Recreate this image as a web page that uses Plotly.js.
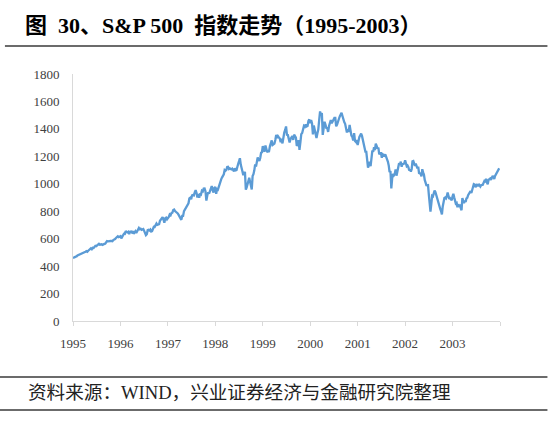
<!DOCTYPE html>
<html>
<head>
<meta charset="utf-8">
<script src="https://cdn.plot.ly/plotly-3.0.1.min.js"></script>
<style>
html,body{margin:0;padding:0;background:#fff;}
#chart{width:554px;height:423px;}
</style>
</head>
<body>
<div id="chart"></div>
<script>
// S&P 500 index, approx. weekly levels, one array per year
const sp1995 = [460,461,465,470,471, 478,481,482,483, 485,490,495,500,502, 505,509,505,512, 520,525,529,523,533, 532,539,548,545, 553,560,562,556, 558,559,555,561,562, 563,572,583,581, 582,587,583,583,581, 590,593,597,605, 608,617,611,615];
const sp1996 = [618,602,611,621,636, 635,656,648,645, 650,634,651,652,645, 655,636,646,654, 641,652,668,678,669, 673,665,666,671, 657,646,626,633, 662,665,660,667,652, 655,681,687,686, 702,710,700,701,705, 730,738,749,757, 739,716,749,753,741];
const sp1997 = [748,759,776,770,786, 789,808,812,801, 795,793,784,773,757, 750,737,766,766,801, 812,824,829,848, 858,893,898,887, 916,918,915,938,954, 933,900,925,899, 929,923,950,945, 965,966,944,877,915, 938,928,950,955, 983,954,936,970];
const sp1998 = [977,927,961,957,980, 1003,1020,1034,1047, 1055,1069,1100,1095,1101, 1122,1123,1108,1112, 1108,1105,1110,1093,1091, 1113,1098,1100,1134, 1146,1165,1186,1140,1121, 1089,1062,1082,1081,957, 973,1009,1020,1044,1017, 984,959,1056,1070,1098, 1141,1125,1163,1192, 1176,1166,1188,1226,1229];
const sp1999 = [1275,1244,1235,1279, 1239,1230,1239,1238, 1275,1294,1316,1283,1286, 1293,1319,1356,1334, 1347,1338,1330,1302, 1328,1294,1342,1373, 1392,1418,1357,1356,1329, 1301,1327,1336,1348,1320, 1358,1347,1336,1277,1283, 1318,1247,1301,1362, 1370,1396,1422,1416, 1433,1418,1421,1458,1469];
const sp2000 = [1441,1465,1441,1360, 1424,1387,1346,1333, 1366,1395,1464,1527,1499, 1516,1356,1434,1452, 1432,1407,1406,1378,1421, 1457,1464,1441,1455, 1478,1480,1480,1419,1431, 1462,1472,1491,1506,1518, 1494,1466,1449,1437, 1408,1374,1396,1379,1429, 1365,1351,1342,1315, 1369,1312,1305,1320];
const sp2001 = [1283,1318,1342,1354,1366, 1349,1315,1302,1246, 1234,1233,1150,1117,1139,1160, 1128,1183,1242,1234, 1266,1245,1292,1277,1256, 1264,1214,1225,1224, 1190,1215,1210,1205, 1214,1200,1181,1162,1134, 1086,1093,966,1040, 1072,1062,1073,1104,1059, 1087,1120,1150,1139, 1161,1124,1144,1145,1148];
const sp2002 = [1172,1146,1128,1133, 1122,1096,1104,1089,1106, 1164,1166,1148,1131,1147, 1122,1112,1125,1079,1076, 1073,1054,1106,1083,1067, 1028,1007,990,989, 990,921,847,797,852,912, 908,928,950,940,916, 894,889,845,827,815, 800,777,835,884,897, 900,894,910,937, 912,889,895,890,880];
const sp2003 = [909,927,901,861,856, 860,829,851,838,841, 829,807,895,863,858, 878,868,893,898,917, 930,933,946,933,964, 987,998,995,975, 985,998,981,998,990, 980,990,990,993,1008, 1021,1018,1036,1010,996, 1029,1038,1039,1028,1050, 1058,1050,1035,1058, 1070,1074,1089,1095,1112];

const years = [1995,1996,1997,1998,1999,2000,2001,2002,2003];
const yearSeries = [sp1995,sp1996,sp1997,sp1998,sp1999,sp2000,sp2001,sp2002,sp2003];
const yTicks = [0,200,400,600,800,1000,1200,1400,1600,1800];
const xTickLabels = ['1995','1996','1997','1998','1999','2000','2001','2002','2003',''];

const titleText = '图  30、S&P 500  指数走势（1995-2003）';
const sourceText = '资料来源：WIND，兴业证券经济与金融研究院整理';

// position each weekly value within its year
const xs = [], ys = [];
yearSeries.forEach((arr, k) => {
  arr.forEach((v, i) => { xs.push(years[k] + i / arr.length); ys.push(v); });
});

const trace = {
  x: xs, y: ys, type: 'scatter', mode: 'lines',
  line: {color: '#5b9bd5', width: 2.3},
  hoverinfo: 'skip'
};

const serif = '"Liberation Serif", "Times New Roman", "Noto Sans CJK SC", serif';

const layout = {
  width: 554, height: 423,
  margin: {l: 73, r: 54.4, t: 74, b: 102},
  paper_bgcolor: '#fff', plot_bgcolor: '#fff',
  showlegend: false,
  title: {
    text: '<b>' + titleText + '</b>',
    xref: 'container', yref: 'container',
    x: 25/554, xanchor: 'left', y: 1 - 25/423, yanchor: 'middle',
    font: {family: serif, size: 22, color: '#000'}
  },
  xaxis: {
    type: 'linear', range: [1995, 2004],
    tickvals: [1995,1996,1997,1998,1999,2000,2001,2002,2003,2004],
    ticktext: xTickLabels,
    showgrid: false, zeroline: false,
    showline: true, linecolor: '#d9d9d9', linewidth: 1,
    ticks: 'outside', ticklen: 4, tickcolor: '#d9d9d9', tickwidth: 1,
    ticklabelstandoff: 6,
    tickfont: {family: serif, size: 13, color: '#404040'}
  },
  yaxis: {
    range: [0, 1800], tickvals: yTicks,
    showgrid: false, zeroline: false,
    showline: true, linecolor: '#d9d9d9', linewidth: 1,
    ticks: '', ticklabelstandoff: 10,
    tickfont: {family: serif, size: 13, color: '#404040'}
  },
  shapes: [
    {type: 'line', xref: 'paper', yref: 'paper', x0: (5-73)/426.6, x1: (547-73)/426.6, y0: (321-46)/247, y1: (321-46)/247, line: {color: '#3a3a3a', width: 1.5}},
    {type: 'line', xref: 'paper', yref: 'paper', x0: -73/426.6, x1: (547-73)/426.6, y0: (321-377)/247, y1: (321-377)/247, line: {color: '#3a3a3a', width: 1.5}},
    {type: 'line', xref: 'paper', yref: 'paper', x0: -73/426.6, x1: (547-73)/426.6, y0: (321-410)/247, y1: (321-410)/247, line: {color: '#3a3a3a', width: 1.5}}
  ],
  annotations: [
    {text: sourceText, xref: 'paper', yref: 'paper', x: (26-73)/426.6, y: (321-392)/247,
     xanchor: 'left', yanchor: 'middle', showarrow: false,
     font: {family: serif, size: 18.6, color: '#222'}}
  ]
};

Plotly.newPlot('chart', [trace], layout, {staticPlot: true, displayModeBar: false});
</script>
</body>
</html>
